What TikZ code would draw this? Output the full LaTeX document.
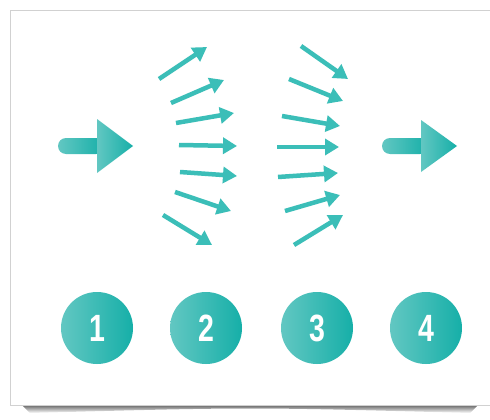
\documentclass[tikz,border=0pt]{standalone}
\usepackage{fontspec}
\setsansfont{Liberation Sans}
\usetikzlibrary{arrows.meta}

\definecolor{tealL}{HTML}{62C7C2}
\definecolor{tealD}{HTML}{16AFA8}
\definecolor{tealM}{HTML}{3BBEB8}

\tikzset{
  ray/.style={tealM,line width=4.5pt,-{Triangle[length=14pt,width=16pt]}},
  numdisc/.style={circle,minimum size=72pt,inner sep=0pt,left color=tealL,right color=tealD,
    text=white,font=\sffamily\bfseries\fontsize{38}{38}\selectfont},
  bigshade/.style={left color=tealL,right color=tealD,draw=none}
}

\begin{document}
\begin{tikzpicture}[x=1pt,y=-1pt]
    \useasboundingbox (0,0) rectangle (490,420);

    % frame and its shadow
    \shade[top color=black!60,bottom color=white] (22,405) -- (478,405) -- (470,413)
        .. controls (250,407) .. (30,413) -- cycle;
    \draw[black!18,fill=white] (10,10) rectangle (495,405);

    % incoming arrow
    \shade[bigshade,rounded corners=8pt] (58,138) rectangle (104,154);
    \shade[bigshade] (97,119) -- (133,146) -- (97,173) -- cycle;

    % outgoing arrow
    \shade[bigshade,rounded corners=8pt] (382,138) rectangle (428,154);
    \shade[bigshade] (421,120) -- (457,146) -- (421,172) -- cycle;

    % rays leaving the lens
    \draw[ray] (159,79)  -- (207,47);
    \draw[ray] (171,103) -- (224,80);
    \draw[ray] (176,123) -- (234,113);
    \draw[ray] (179,145) -- (237,146);
    \draw[ray] (180,172) -- (237,176);
    \draw[ray] (175,192) -- (231,211);
    \draw[ray] (163,215) -- (212,245);

    % rays coming back together
    \draw[ray] (301,46)  -- (348,79);
    \draw[ray] (289,79)  -- (343,101);
    \draw[ray] (282,116) -- (340,126);
    \draw[ray] (277,147) -- (339,147);
    \draw[ray] (278,177) -- (338,173);
    \draw[ray] (285,211) -- (340,195);
    \draw[ray] (294,245) -- (343,215);

    % step numbers
    \node[numdisc] (n1) at (97,328)  {\scalebox{0.75}[1]{1}};
    \node[numdisc] (n2) at (206,328) {\scalebox{0.75}[1]{2}};
    \node[numdisc] (n3) at (317,328) {\scalebox{0.75}[1]{3}};
    \node[numdisc] (n4) at (426,328) {\scalebox{0.75}[1]{4}};
\end{tikzpicture}
\end{document}
